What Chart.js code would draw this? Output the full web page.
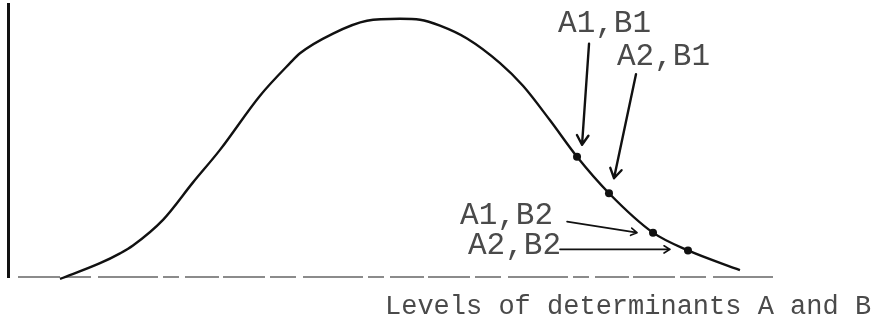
<!DOCTYPE html>
<html>
<head>
<meta charset="utf-8">
<script src="https://cdn.jsdelivr.net/npm/chart.js@4/dist/chart.umd.min.js"></script>
<style>
  html, body { margin: 0; padding: 0; background: #fff; }
  canvas { display: block; }
</style>
</head>
<body>
<canvas id="c" width="875" height="332"></canvas>
<script>
// Response curve over the levels of the two determinants
const levels   = [6.75, 11.95, 14.55, 16.23, 20.13, 24.03, 27.53, 32.73, 36.62, 37.92, 42.21, 46.62,
                  50.91, 53.51, 56.10, 59.61, 63.90, 66.88, 70.39, 73.90, 78.05, 83.77, 88.31, 95.06];
const response = [-0.72, 5.05, 8.66, 11.55, 20.94, 34.66, 46.57, 66.43, 78.34, 81.95, 89.17, 93.86,
                  94.58, 94.22, 92.06, 87.36, 78.34, 70.04, 57.40, 44.04, 30.69, 16.25, 9.75, 2.53];

// Marked treatment combinations on the falling side of the curve
const comboLabels   = ['A1,B1', 'A2,B1', 'A1,B2', 'A2,B2'];
const comboLevels   = [73.90, 78.05, 83.77, 88.31];
const comboResponse = [44.04, 30.69, 16.25, 9.75];

const axisTitle = 'Levels of determinants A and B';

const TYPE_FONT = '"Liberation Mono", "DejaVu Sans Mono", monospace';
const INK = '#111';
const TYPE_INK = '#4a4a4a';

// Where each label and its arrow sit, relative to the marked point
const callouts = [
  { dx: -19,  dy: -133, tail: [12, -113], tip: [5, -12],  head: 11, lw: 2.4 },
  { dx: 8,    dy: -136, tail: [27, -119], tip: [5, -15],  head: 11, lw: 2.4 },
  { dx: -193, dy: -17,  tail: [-86, -11], tip: [-16, 0],  head: 7,  lw: 1.6 },
  { dx: -220, dy: -5,   tail: [-128, -1], tip: [-18, -1], head: 7,  lw: 1.6 }
];

function arrow(ctx, x1, y1, x2, y2, head, lw) {
  const a = Math.atan2(y2 - y1, x2 - x1);
  ctx.save();
  ctx.strokeStyle = INK;
  ctx.lineWidth = lw;
  ctx.lineCap = 'round';
  ctx.beginPath();
  ctx.moveTo(x1, y1);
  ctx.lineTo(x2, y2);
  ctx.moveTo(x2, y2);
  ctx.lineTo(x2 - head * Math.cos(a - 0.55), y2 - head * Math.sin(a - 0.55));
  ctx.moveTo(x2, y2);
  ctx.lineTo(x2 - head * Math.cos(a + 0.55), y2 - head * Math.sin(a + 0.55));
  ctx.stroke();
  ctx.restore();
}

// Typed dashed baseline along the zero level of the response axis
const baselinePlugin = {
  id: 'typedBaseline',
  beforeDatasetsDraw(chart) {
    const ctx = chart.ctx;
    const { left, right } = chart.chartArea;
    const y0 = chart.scales.y.getPixelForValue(0);
    ctx.save();
    ctx.strokeStyle = '#666';
    ctx.lineWidth = 1.5;
    ctx.setLineDash([42, 5, 26, 7, 60, 5, 16, 6, 34, 4]);
    ctx.beginPath();
    ctx.moveTo(left + 10, y0);
    ctx.lineTo(right, y0);
    ctx.stroke();
    ctx.restore();
  }
};

const calloutPlugin = {
  id: 'callouts',
  afterDatasetsDraw(chart) {
    const ctx = chart.ctx;
    const pts = chart.getDatasetMeta(1).data;
    ctx.save();
    ctx.font = '31px ' + TYPE_FONT;
    ctx.fillStyle = TYPE_INK;
    ctx.textBaseline = 'middle';
    ctx.textAlign = 'left';
    pts.forEach((p, i) => {
      const c = callouts[i];
      ctx.fillText(comboLabels[i], p.x + c.dx, p.y + c.dy);
      arrow(ctx, p.x + c.tail[0], p.y + c.tail[1], p.x + c.tip[0], p.y + c.tip[1], c.head, c.lw);
    });
    // horizontal axis caption, typed under the right part of the baseline
    const area = chart.chartArea;
    ctx.font = '27px ' + TYPE_FONT;
    ctx.fillText(axisTitle, area.left + 377, area.bottom + 30);
    ctx.restore();
  }
};

new Chart(document.getElementById('c'), {
  type: 'line',
  data: {
    datasets: [
      {
        data: levels.map((x, i) => ({ x, y: response[i] })),
        borderColor: INK,
        borderWidth: 2.4,
        pointRadius: 0,
        cubicInterpolationMode: 'monotone',
        fill: false,
        clip: false
      },
      {
        data: comboLevels.map((x, i) => ({ x, y: comboResponse[i] })),
        showLine: false,
        pointRadius: 4,
        pointBackgroundColor: INK,
        pointBorderColor: INK,
        pointBorderWidth: 0,
        clip: false
      }
    ]
  },
  options: {
    responsive: false,
    animation: false,
    devicePixelRatio: 1,
    layout: { padding: { left: 8, right: 97, top: 0, bottom: 55 } },
    plugins: { legend: { display: false }, tooltip: { enabled: false } },
    scales: {
      x: {
        type: 'linear', min: 0, max: 100,
        ticks: { display: false },
        grid: { display: false },
        border: { display: false },
        afterFit(scale) { scale.height = 0; }
      },
      y: {
        type: 'linear', min: 0, max: 100,
        ticks: { display: false },
        grid: { display: false },
        border: { display: true, color: INK, width: 3 },
        afterFit(scale) { scale.width = 0; }
      }
    }
  },
  plugins: [baselinePlugin, calloutPlugin]
});
</script>
</body>
</html>
